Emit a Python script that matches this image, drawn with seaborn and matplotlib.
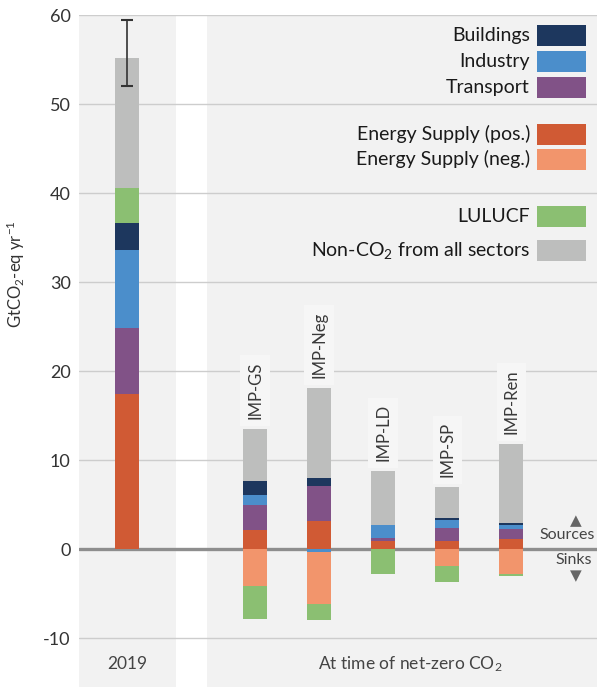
import numpy as np
import pandas as pd
import matplotlib.pyplot as plt
import seaborn as sns
from matplotlib.patches import Rectangle

# values (GtCO2-eq yr-1)
labels = ["2019", "IMP-GS", "IMP-Neg", "IMP-LD", "IMP-SP", "IMP-Ren"]
energy_pos = [17.4, 2.1, 3.1, 0.86, 0.86, 1.1]
transport = [7.4, 2.8, 4.0, 0.4, 1.5, 1.2]
industry = [8.8, 1.2, -0.3, 1.4, 0.9, 0.45]
buildings = [3.0, 1.6, 0.9, 0.0, 0.2, 0.2]
lulucf = [4.0, -3.7, -1.8, -2.8, -1.7, -0.25]
non_co2 = [14.6, 5.8, 10.1, 6.1, 3.5, 8.9]
energy_neg = [0.0, -4.2, -5.9, 0.0, -1.95, -2.8]
err_2019 = [52.0, 59.4]

colors = {
    "Buildings": "#1d375e",
    "Industry": "#4b8ecb",
    "Transport": "#815287",
    "Energy Supply (pos.)": "#d05a34",
    "Energy Supply (neg.)": "#f2956c",
    "LULUCF": "#8bbf72",
    "Non-CO$_2$ from all sectors": "#bdbebd",
}

sns.set_style("white")
plt.rcParams["font.family"] = ["Lato", "DejaVu Sans"]
plt.rcParams["mathtext.fontset"] = "custom"
plt.rcParams["mathtext.rm"] = "Lato"
plt.rcParams["mathtext.it"] = "Lato:italic"
plt.rcParams["axes.unicode_minus"] = False

order = ["2019", " "] + labels[1:]

fig = plt.figure(figsize=(5.97, 6.87), dpi=100)
ax = fig.add_axes([79 / 597, 0, 518 / 597, 672 / 687])

ind = np.array(industry)
lu = np.array(lulucf)
pos_layers = [
    ("Energy Supply (pos.)", np.array(energy_pos)),
    ("Transport", np.array(transport)),
    ("Industry", np.clip(ind, 0, None)),
    ("Buildings", np.array(buildings)),
    ("LULUCF", np.clip(lu, 0, None)),
    ("Non-CO$_2$ from all sectors", np.array(non_co2)),
]
neg_layers = [
    ("Industry", np.clip(ind, None, 0)),
    ("Energy Supply (neg.)", np.array(energy_neg)),
    ("LULUCF", np.clip(lu, None, 0)),
]

# stacked bars: draw cumulative totals, biggest first
for layers in (pos_layers, neg_layers):
    cum = np.cumsum([v for _, v in layers], axis=0)
    for (name, _), c in reversed(list(zip(layers, cum))):
        df = pd.DataFrame({"scenario": labels, "value": c})
        sns.barplot(data=df, x="scenario", y="value", order=order,
                    color=colors[name], saturation=1, width=0.375,
                    errorbar=None, linewidth=0, ax=ax)

totals = np.sum([v for _, v in pos_layers], axis=0)

# uncertainty on 2019 total
mid = np.mean(err_2019)
ax.errorbar([order.index("2019")], [mid],
            yerr=[[mid - err_2019[0]], [err_2019[1] - mid]],
            fmt="none", ecolor="#333333", elinewidth=1.2, capsize=4.5, capthick=1.5,
            zorder=5)

# scenario names above the bars
for lab, top in zip(labels[1:], totals[1:]):
    ax.annotate(lab, xy=(order.index(lab), top), xytext=(0, 7),
                textcoords="offset points", rotation=90, ha="center", va="bottom",
                fontsize=12, color="#3a3a3a",
                bbox=dict(boxstyle="square,pad=0.4", fc="#f6f6f6", ec="none"))

# panels, grid, zero line
ax.set_xlim(-0.75, 7.34)
ax.set_ylim(-15.5, 60)
ax.axvspan(-0.75, 0.766, color="#f2f2f2", zorder=0, lw=0)
ax.axvspan(1.25, 7.4, color="#f2f2f2", zorder=0, lw=0)
ax.set_axisbelow(True)
ax.yaxis.grid(True, color="#cdcdcd", lw=1.0)
ax.xaxis.grid(False)
ax.axhline(0, color="#8e8e8e", lw=2.4, zorder=0.8)

ax.set_yticks(range(-10, 61, 10))
ax.tick_params(axis="y", labelsize=13, labelcolor="#333333", length=0, pad=6)
ax.set_xticks([])
ax.set_xlabel("")
ax.set_ylabel("GtCO$_2$-eq yr$^{-1}$", fontsize=12, color="#333333")
ax.yaxis.set_label_coords(-0.10, 0.615)
sns.despine(ax=ax, left=True, bottom=True)

ax.text(0, -12.9, "2019", ha="center", va="center", fontsize=12.5, color="#444444")
ax.text(4.42, -12.9, "At time of net-zero CO$_2$", ha="center", va="center",
        fontsize=12.5, color="#444444")

# legend drawn by hand (right aligned text, boxes on the right)
leg_rows = [
    ("Buildings", 35.5), ("Industry", 61), ("Transport", 87),
    ("Energy Supply (pos.)", 134), ("Energy Supply (neg.)", 159),
    ("LULUCF", 216.5), ("Non-CO$_2$ from all sectors", 250.5),
]
for name, ypx in leg_rows:
    yf = 1 - ypx / 687
    fig.patches.append(Rectangle((537 / 597, yf - 10.5 / 687), 49 / 597, 21 / 687,
                                 transform=fig.transFigure, fc=colors[name],
                                 ec="none", zorder=5))
    fig.text(530 / 597, yf, name, ha="right", va="center", fontsize=14,
             color="#1a1a1a")

# sources / sinks marker
fig.text(595 / 597, 1 - 535 / 687, "Sources", ha="right", va="center",
         fontsize=11.5, color="#444444")
fig.text(574 / 597, 1 - 560 / 687, "Sinks", ha="center", va="center",
         fontsize=11.5, color="#444444")
fig.text(576 / 597, 1 - 521 / 687, "\u25b2", ha="center", va="center",
         fontsize=11, color="#666666", family="DejaVu Sans")
fig.text(576 / 597, 1 - 576 / 687, "\u25bc", ha="center", va="center",
         fontsize=11, color="#666666", family="DejaVu Sans")

fig.savefig("out.png", dpi=100)
